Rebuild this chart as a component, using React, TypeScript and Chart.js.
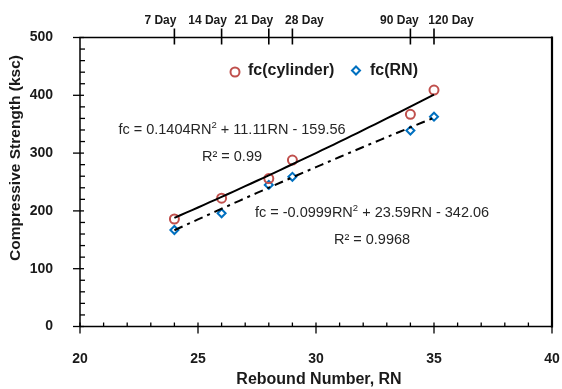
import React, { useEffect, useRef } from "react";
import { Chart, registerables } from "chart.js";

Chart.register(...registerables);

// ---- data ----
const rebound = [24, 26, 28, 29, 34, 35];
const fcCylinder = [186, 222, 256, 288, 367, 409];
const fcRN = [167, 196, 245, 259, 339, 363];
const dayTicks = [24, 26, 28, 29, 34, 35];
const dayLabels = ["7 Day", "14 Day", "21 Day", "28 Day", "90 Day", "120 Day"];
// polynomial trendline coefficients (a*RN^2 + b*RN + c), as printed on the chart
const cylinderFit = [0.1404, 11.11, -159.56];
const rnFit = [-0.0999, 23.59, -342.06];
const fitRange = [24, 35];
const cylinderEq = ["fc = 0.1404RN", "2", " + 11.11RN - 159.56"];
const cylinderR2 = "R² = 0.99";
const rnEq = ["fc = -0.0999RN", "2", " + 23.59RN - 342.06"];
const rnR2 = "R² = 0.9968";

// styling: horizontal nudge (px) of each top label relative to its tick
const dayLabelNudge = [-14, -14, -15, 12, -11, 17];

const FONT = '"Liberation Sans", Arial, Helvetica, sans-serif';
const RED = "#C0504D";
const BLUE = "#0070C0";

function fitPoints(coef: number[]) {
  const pts: { x: number; y: number }[] = [];
  const steps = 44;
  for (let i = 0; i <= steps; i++) {
    const x = fitRange[0] + ((fitRange[1] - fitRange[0]) * i) / steps;
    pts.push({ x, y: coef[0] * x * x + coef[1] * x + coef[2] });
  }
  return pts;
}

const decorPlugin = {
  id: "decor",
  afterDraw(chart: any) {
    const { ctx, chartArea } = chart;
    const { left, right, top, bottom } = chartArea;
    const x = chart.scales.x;
    const y = chart.scales.y;
    const line = (x1: number, y1: number, x2: number, y2: number) => {
      ctx.beginPath();
      ctx.moveTo(x1, y1);
      ctx.lineTo(x2, y2);
      ctx.stroke();
    };
    ctx.save();
    ctx.strokeStyle = "#000";
    ctx.lineWidth = 1.5;
    // borders
    line(left - 0.75, top, right, top);
    line(left, bottom, right, bottom);
    line(left, top, left, bottom);
    ctx.lineWidth = 2.2;
    line(right, top - 1, right, bottom + 1);
    ctx.lineWidth = 1.3;
    // y ticks
    for (let v = 0; v <= 500; v += 20) {
      const py = y.getPixelForValue(v);
      if (v % 100 === 0) line(left - 7, py, left + 4, py);
      else line(left, py, left + 5, py);
    }
    // x ticks
    for (let v = 20; v <= 40; v += 1) {
      const px = x.getPixelForValue(v);
      if (v % 5 === 0) line(px, bottom - 4, px, bottom + 7);
      else line(px, bottom - 4, px, bottom);
    }
    // top day ticks + labels
    ctx.lineWidth = 1.6;
    ctx.fillStyle = "#1a1a1a";
    ctx.font = `bold 12px ${FONT}`;
    ctx.textAlign = "center";
    ctx.textBaseline = "middle";
    dayTicks.forEach((d, i) => {
      const px = x.getPixelForValue(d);
      line(px, top - 9, px, top + 7);
      ctx.fillText(dayLabels[i], px + dayLabelNudge[i], top - 17);
    });

    // legend
    ctx.lineWidth = 2;
    ctx.strokeStyle = RED;
    ctx.beginPath();
    ctx.arc(235, 72, 4.5, 0, Math.PI * 2);
    ctx.stroke();
    ctx.strokeStyle = BLUE;
    ctx.beginPath();
    ctx.moveTo(356, 66.5);
    ctx.lineTo(360, 70.5);
    ctx.lineTo(356, 74.5);
    ctx.lineTo(352, 70.5);
    ctx.closePath();
    ctx.stroke();
    ctx.fillStyle = "#1a1a1a";
    ctx.font = `bold 16px ${FONT}`;
    ctx.textAlign = "left";
    ctx.textBaseline = "middle";
    ctx.fillText("fc(cylinder)", 248, 71);
    ctx.fillText("fc(RN)", 370, 71);

    // axis titles
    ctx.textAlign = "center";
    ctx.fillText("Rebound Number, RN", 319, 380);
    ctx.save();
    ctx.translate(16, 158);
    ctx.rotate(-Math.PI / 2);
    ctx.font = `bold 15.5px ${FONT}`;
    ctx.fillText("Compressive Strength (ksc)", 0, 0);
    ctx.restore();

    // equations
    const drawEq = (parts: string[], cx: number, cy: number) => {
      const main = `14.5px ${FONT}`;
      const sup = `9.5px ${FONT}`;
      ctx.font = main;
      const w0 = ctx.measureText(parts[0]).width;
      const w2 = ctx.measureText(parts[2]).width;
      ctx.font = sup;
      const w1 = ctx.measureText(parts[1]).width;
      const total = w0 + w1 + w2;
      let sx = cx - total / 2;
      ctx.textAlign = "left";
      ctx.textBaseline = "middle";
      ctx.font = main;
      ctx.fillText(parts[0], sx, cy);
      sx += w0;
      ctx.font = sup;
      ctx.fillText(parts[1], sx, cy - 5);
      sx += w1;
      ctx.font = main;
      ctx.fillText(parts[2], sx, cy);
    };
    ctx.fillStyle = "#262626";
    drawEq(cylinderEq, 232, 130);
    drawEq(rnEq, 372, 213);
    ctx.font = `14.5px ${FONT}`;
    ctx.textAlign = "center";
    ctx.fillText(cylinderR2, 232, 157);
    ctx.fillText(rnR2, 372, 240);
    ctx.restore();
  },
};

export default function App() {
  const ref = useRef<HTMLCanvasElement | null>(null);
  useEffect(() => {
    if (!ref.current) return;
    const tickFont = { family: FONT, size: 14, weight: "bold" as const };
    const chart = new Chart(ref.current, {
      type: "scatter",
      data: {
        datasets: [
          {
            label: "fc(cylinder) trend",
            data: fitPoints(cylinderFit),
            showLine: true,
            borderColor: "#000",
            borderWidth: 2,
            pointRadius: 0,
            order: 1,
          },
          {
            label: "fc(RN) trend",
            data: fitPoints(rnFit),
            showLine: true,
            borderColor: "#000",
            borderWidth: 2,
            borderDash: [9, 5, 3, 5],
            pointRadius: 0,
            order: 1,
          },
          {
            label: "fc(cylinder)",
            data: rebound.map((r, i) => ({ x: r, y: fcCylinder[i] })),
            pointStyle: "circle",
            pointRadius: 4.5,
            borderWidth: 2,
            borderColor: RED,
            backgroundColor: "rgba(0,0,0,0)",
            order: 2,
          },
          {
            label: "fc(RN)",
            data: rebound.map((r, i) => ({ x: r, y: fcRN[i] })),
            pointStyle: "rectRot",
            pointRadius: 4,
            borderWidth: 2,
            borderColor: BLUE,
            backgroundColor: "rgba(0,0,0,0)",
            order: 2,
          },
        ],
      },
      options: {
        responsive: false,
        animation: false,
        layout: { padding: { left: 0, right: 10, top: 37.5, bottom: 0 } },
        plugins: { legend: { display: false }, tooltip: { enabled: false } },
        scales: {
          x: {
            type: "linear",
            position: "bottom",
            min: 20,
            max: 40,
            ticks: { stepSize: 5, font: tickFont, color: "#1a1a1a", padding: 24, maxRotation: 0 },
            grid: { display: false, drawTicks: false },
            border: { display: false },
            afterFit: (s: any) => {
              s.height = 62.5;
              s.paddingLeft = 0;
              s.paddingRight = 0;
            },
          },
          y: {
            type: "linear",
            min: 0,
            max: 500,
            ticks: { stepSize: 100, font: tickFont, color: "#1a1a1a", padding: 27 },
            grid: { display: false, drawTicks: false },
            border: { display: false },
            afterFit: (s: any) => {
              s.width = 80;
              s.paddingTop = 0;
              s.paddingBottom = 0;
            },
          },
        },
      },
      plugins: [decorPlugin],
    });
    return () => chart.destroy();
  }, []);
  return (
    <div style={{ position: "absolute", left: 0, top: 0, width: 562, height: 389, background: "#fff" }}>
      <canvas ref={ref} width={562} height={389} />
    </div>
  );
}
